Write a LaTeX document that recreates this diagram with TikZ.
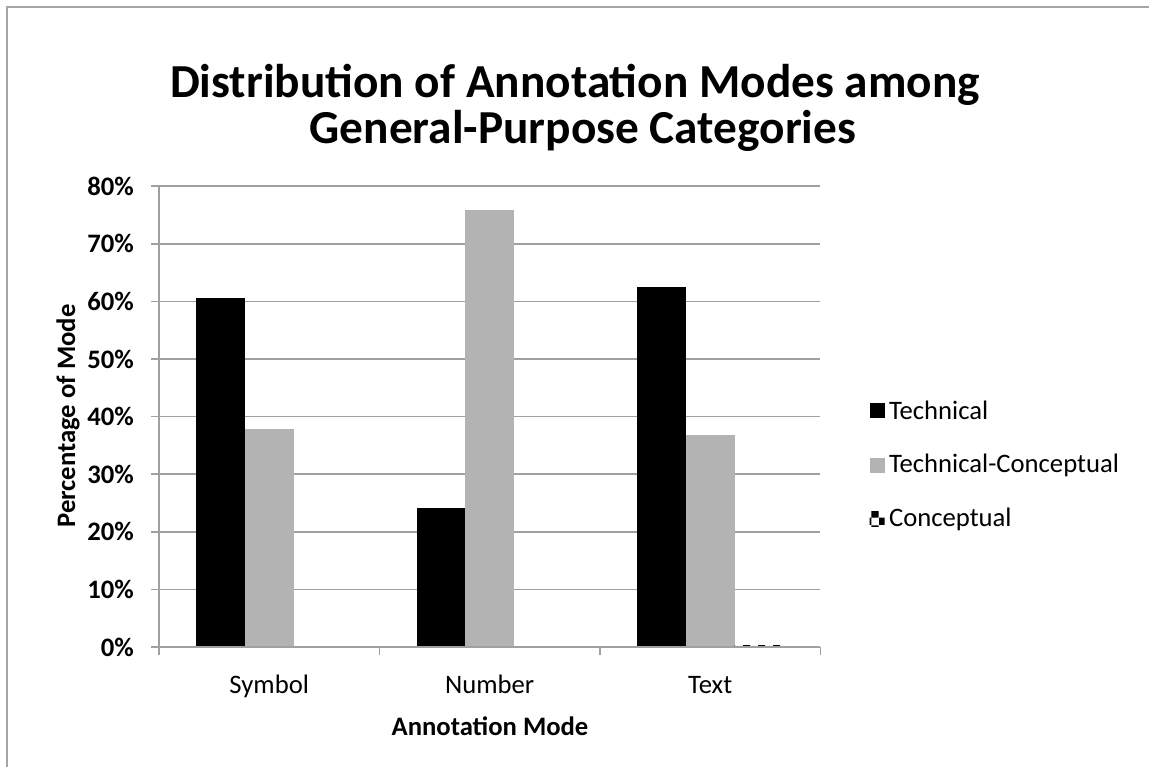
\documentclass[tikz,border=0pt]{standalone}
\usepackage{fontspec}
\setmainfont{Carlito}
\usetikzlibrary{positioning,patterns}

\definecolor{tcgray}{RGB}{179,179,179}
\definecolor{gridgray}{RGB}{160,160,160}
\definecolor{framegray}{RGB}{166,166,166}

\def\catsep{220.5}
\def\barw{48.8}
\def\ybase{647}
\def\yunit{5.76}

\begin{document}
\begin{tikzpicture}[x=0.75pt,y=-0.75pt]
  \tikzstyle{grid line}=[draw=gridgray, line width=1.2pt]
  \tikzstyle{frame line}=[draw=framegray, line width=1.5pt]
  \tikzstyle{tech bar}=[fill=black]
  \tikzstyle{tc bar}=[fill=tcgray]
  \tikzstyle{con bar}=[pattern=checkerboard, pattern color=black]
  \tikzstyle{title}=[font=\fontsize{35.5}{42}\selectfont\bfseries]
  \tikzstyle{tick label}=[anchor=east, inner sep=0pt, font=\fontsize{20}{24}\selectfont\bfseries]
  \tikzstyle{cat label}=[anchor=base, font=\fontsize{20}{24}\selectfont]
  \tikzstyle{axis title}=[font=\fontsize{20}{24}\selectfont\bfseries]
  \tikzstyle{legend key}=[minimum size=11.25pt, inner sep=0pt]
  \tikzstyle{legend text}=[inner sep=3pt, font=\fontsize{20}{24}\selectfont]

  \useasboundingbox (0,0) rectangle (1149,767);
  \draw[frame line] (7,767) -- (7,7) -- (1149,7);

  % Draw the title
  \node[title] (title1) at (575,85) {Distribution of Annotation Modes among};
  \node[title] (title2) at (583,131) {General-Purpose Categories};

  % Draw the grid and the value axis
  \foreach \p in {1,...,8}
  \draw[grid line] (159,\ybase-57.6*\p) -- (820,\ybase-57.6*\p);
  \draw[grid line] (159,186) -- (159,\ybase);
  \foreach \p/\lab in {0/0,1/10,2/20,3/30,4/40,5/50,6/60,7/70,8/80}
  {
  \draw[grid line] (151,\ybase-57.6*\p) -- (159,\ybase-57.6*\p);
  \node[tick label] (T-\p) at (134,\ybase-57.6*\p) {\lab\%};
  }
  \node[axis title, rotate=90] (ytitle) at (68,416) {Percentage of Mode};

  % Draw the bars
  \foreach \cat/\tech/\tc/\con [count=\i] in {Symbol/60.6/37.8/0,Number/24.2/75.8/0,Text/62.5/36.8/0.25}
  {
  \pgfmathsetmacro\xl{159+\catsep*(\i-1)+37}
  \fill[tech bar] (\xl,\ybase) rectangle ++(\barw,-\yunit*\tech);
  \fill[tc bar] (\xl+\barw,\ybase) rectangle ++(\barw,-\yunit*\tc);
  \fill[con bar] (\xl+2*\barw,\ybase) rectangle ++(\barw,-\yunit*\con);
  \node[cat label] (C-\i) at (\xl+1.5*\barw,693) {\cat};
  }

  % Draw the category axis
  \draw[grid line] (159,\ybase) -- (820,\ybase);
  \foreach \k in {0,...,3}
  \draw[grid line] (159+\catsep*\k,\ybase) -- (159+\catsep*\k,655);
  \node[axis title] (xtitle) at (490,726) {Annotation Mode};

  % Draw the legend
  \foreach \name/\sty/\y [count=\i] in {Technical/tech bar/410,Technical-Conceptual/tc bar/465,Conceptual/con bar/519}
  {
  \node[legend key, \sty] (K-\i) at (877,\y) {};
  \node[legend text, right=0pt of K-\i] (L-\i) {\name};
  }
\end{tikzpicture}
\end{document}
